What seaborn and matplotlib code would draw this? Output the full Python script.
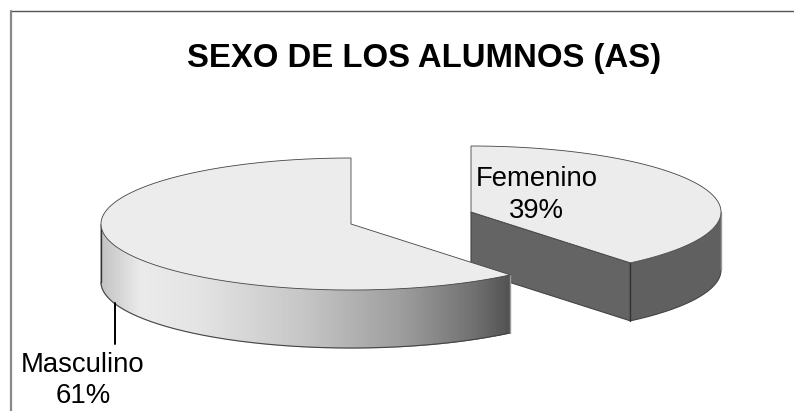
import numpy as np
import matplotlib
matplotlib.use("Agg")
import matplotlib.pyplot as plt
import seaborn as sns
from matplotlib.patches import Polygon

sns.set_theme(style="white")
plt.rcParams['font.family'] = ['Liberation Sans', 'DejaVu Sans']

categories = ["Masculino", "Femenino"]
percentages = [61, 39]
title_text = "SEXO DE LOS ALUMNOS (AS)"

W, H = 794, 411
fig = plt.figure(figsize=(W / 100, H / 100), dpi=100, facecolor="white")
ax = fig.add_axes([0, 0, 1, 1])
ax.set_xlim(0, W)
ax.set_ylim(H, 0)
ax.axis("off")

a, b, depth = 250, 66, 58
centers = {"Masculino": (351, 224), "Femenino": (471, 212)}
top_col = "#ececec"
edge = "#444444"

def pt(c, t):
    return c[0] + a * np.cos(t), c[1] - b * np.sin(t)

def shade(x):
    return str(float(np.interp(x, [-1, -.84, -.6, -.2, .2, .48, .64],
                               [.76, .92, .89, .78, .62, .45, .32])))

start = np.pi / 2
for name, pct in zip(categories, percentages):
    c = centers[name]
    sweep = 2 * np.pi * pct / 100
    if name == "Masculino":
        t0, t1 = start, start + sweep
    else:
        t0, t1 = start - sweep, start
    ts = np.linspace(t0, t1, 400)
    vis = ts[np.sin(ts) <= 0.0]
    low = np.array([pt(c, t) for t in vis])
    if name == "Femenino":
        pe = pt(c, t0)
        ax.add_patch(Polygon([c, pe, (pe[0], pe[1] + depth), (c[0], c[1] + depth)],
                             fc="#646464", ec=edge, lw=.8, zorder=2))
        wall = np.vstack([low, (low + [0, depth])[::-1]])
        ax.add_patch(Polygon(wall, fc="#606060", ec="none", zorder=3))
    else:
        for u, v in zip(vis[:-1], vis[1:]):
            p, q = pt(c, u), pt(c, v)
            col = shade(np.cos((u + v) / 2))
            ax.add_patch(Polygon([p, q, (q[0], q[1] + depth), (p[0], p[1] + depth)],
                                 fc=col, ec=col, lw=.8, zorder=3))
    ax.plot(low[:, 0], low[:, 1] + depth, color=edge, lw=.8, zorder=4)
    ax.plot([low[0, 0]] * 2, [low[0, 1], low[0, 1] + depth], color="#333333", lw=1, zorder=4)
    ax.plot([low[-1, 0]] * 2, [low[-1, 1], low[-1, 1] + depth], color="#999999", lw=1, zorder=4)
    arc = [pt(c, t) for t in ts]
    ax.add_patch(Polygon([c] + arc, closed=True, fc=top_col, ec=edge, lw=.6, zorder=5))

fs = 19.8
ax.plot([115, 115], [303, 344], color="black", lw=1.4, zorder=6)
ax.text(536.5, 179, categories[1], ha="center", va="center", fontsize=fs, color="black", zorder=7)
ax.text(536, 211, f"{percentages[1]}%", ha="center", va="center", fontsize=fs, color="black", zorder=7)
ax.text(83, 365, categories[0], ha="center", va="center", fontsize=fs, color="black", zorder=7)
ax.text(83, 396, f"{percentages[0]}%", ha="center", va="center", fontsize=fs, color="black", zorder=7)
ax.text(424.5, 59, title_text, ha="center", va="center", fontsize=23.7, fontweight="bold", color="black", zorder=7)

ax.plot([11, 794], [11.5, 11.5], color="#555555", lw=1, zorder=1)
ax.plot([11, 11], [11, 411], color="#888888", lw=1.6, zorder=1)

fig.savefig("out.png", dpi=100)
